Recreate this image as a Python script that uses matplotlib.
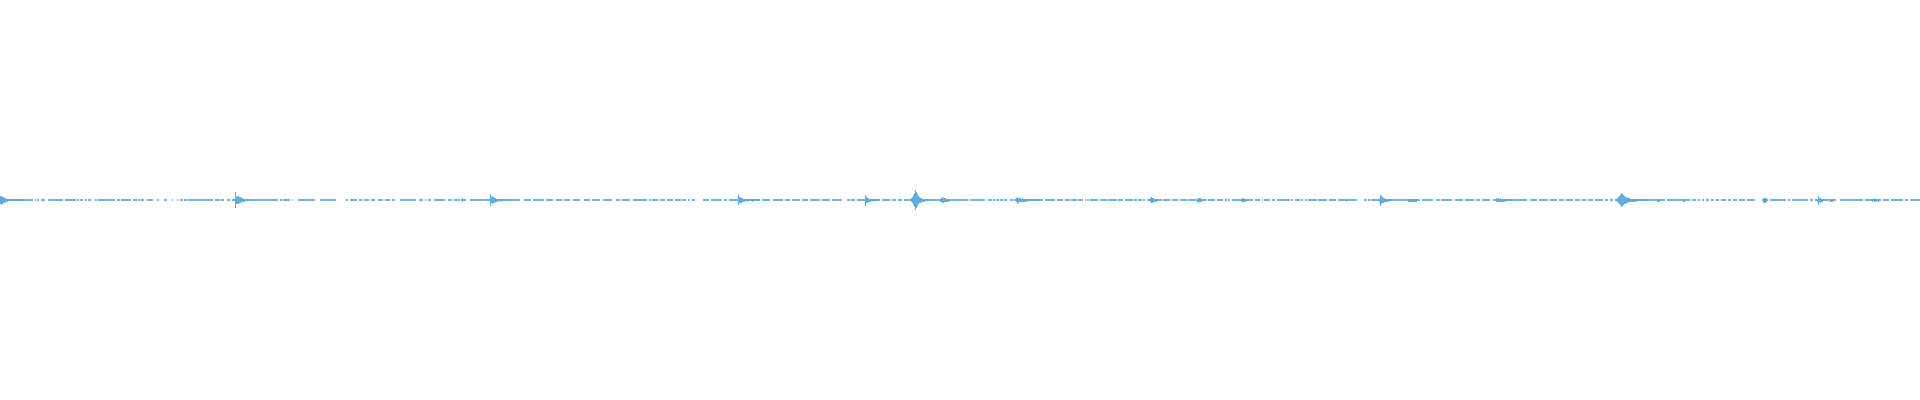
"""
Waveform strip: mostly silence with short bursts, drawn per pixel column
as a symmetric envelope around a thin centre line with dropouts.
"""
import numpy as np
import matplotlib
matplotlib.use("Agg")
import matplotlib.pyplot as plt

WAVE_COLOR = "#5DADE2"
N_COLS = 1920

# ── Data: bursts (first column, half-height of each column) ──────────────────
burst_starts = [0, 233, 462, 489, 738, 865, 911, 940, 1016, 1150,
                1197, 1241, 1346, 1379, 1408, 1496, 1617, 1657, 1683,
                1763, 1817, 1830, 1872]
burst_heights = [
    [4, 4.5, 3.5, 3, 2.5, 2, 1.5, 1.5, 1, 1, 1, 1, 1, 1, 1, 1, 1, 1, 1, 1, 1, 1, 1, 1],
    [1, 1, 8, 3.5, 4, 4, 3, 3, 2, 2, 1.5, 1.5, 1, 1, 1, 1, 1, 1],
    [2, 1, 1],
    [1, 6, 3, 4, 3, 2.5, 2, 1.5, 1.5, 1, 1, 1.5, 1, 1, 1, 1, 1, 1, 1],
    [5, 3, 3, 2.5, 2, 1.5, 1.5, 1, 1, 1.5, 1, 1, 1, 1, 1.5, 1, 1, 1, 1, 1],
    [5.5, 3, 2.5, 2, 1.5, 1.5, 1, 1, 1.5, 1, 1, 1, 1],
    [2, 3, 5, 7, 10, 8, 6, 4, 3, 2.5, 2, 1.5, 1.5, 1.5, 1, 1, 1, 1, 1, 1],
    [1.5, 2, 3, 2.5, 2, 2, 1.5, 1.5, 1.5, 1],
    [2, 3.5, 2.5, 2, 2, 1.5, 2, 1.5, 1.5, 1.5, 1, 1.5, 1, 1, 1, 1, 1, 1, 1, 1, 1],
    [2, 3, 2.5, 2, 1.5, 1.5, 1.5, 1, 1],
    [1.5, 2.5, 2, 2, 1.5, 1],
    [1.5, 2, 2, 1.5, 1.5, 1, 1, 1],
    [1.5],
    [1.5, 5.5, 4, 3, 2.5, 2, 1.5, 1.5, 1.5, 1.5, 1, 1, 1, 1],
    [1.5, 1.5, 1.5, 1.5, 1.5, 1.5, 1.5, 1.5, 1.5],
    [2, 1.5, 2, 1.5, 2, 1.5, 1.5, 1.5, 1.5, 1, 1.5, 1, 1, 1, 1, 1],
    [2, 3, 4, 5, 7, 6, 5, 4, 3.5, 3, 2.5, 2, 2, 1.5, 1.5, 1.5, 1.5, 1.5, 1.5,
     1, 1.5, 1, 1, 1, 1, 1, 1, 1],
    [1.5, 1.5, 1.5],
    [1.5, 1.5],
    [2.5, 2.5, 2.5, 2],
    [1.5, 4.5, 2, 2.5, 1.5, 1.5, 1],
    [1.5, 1.5, 1.5],
    [1.5, 1, 2, 1.5, 1.5, 1, 1.5, 1],
]

# ── Data: dropouts in the centre line (start, end columns) ───────────────────
gap_starts = [33, 36, 39, 45, 63, 76, 79, 83, 87, 91, 97, 115, 120, 131, 137,
              140, 144, 153, 159, 167, 173, 178, 183, 187, 213, 220, 224, 230,
              278, 282, 290, 293, 315,
              336, 348, 357, 362, 369, 375, 383, 390, 395, 416, 423, 426, 431,
              445, 452, 460, 466, 520, 531, 544, 553, 562, 570, 580, 590, 600,
              612, 620, 630,
              647, 651, 658, 665, 673, 681, 686, 690, 695, 709, 722, 727, 760,
              770, 783, 790, 800, 808, 820, 830, 842, 850, 855, 880, 890, 896,
              902,
              968, 970, 985, 992, 995, 999, 1003, 1007, 1013, 1043, 1055, 1063,
              1070, 1077, 1083, 1086, 1089, 1098, 1107, 1117, 1123, 1133, 1137,
              1142, 1145, 1162, 1170, 1178, 1187, 1207, 1215, 1223, 1227, 1230,
              1253, 1260, 1263, 1270, 1275,
              1290, 1293, 1300, 1303, 1307, 1317, 1327, 1336, 1357, 1367, 1370,
              1420, 1433, 1440, 1452, 1463, 1474, 1480, 1490, 1527, 1537, 1548,
              1557, 1564, 1573, 1580, 1586, 1593,
              1603, 1608, 1613, 1665, 1690, 1696, 1700, 1704, 1709, 1714, 1719,
              1726, 1731, 1737, 1745, 1755, 1768, 1786, 1790, 1808, 1813, 1836,
              1863, 1881, 1889, 1903, 1908]
gap_ends = [35, 37, 41, 48, 65, 77, 80, 85, 88, 95, 98, 117, 121, 133, 138,
            141, 147, 157, 164, 172, 177, 180, 184, 188, 215, 221, 227, 232,
            280, 283, 292, 298, 320,
            346, 350, 359, 364, 371, 378, 385, 392, 400, 419, 425, 428, 434,
            448, 454, 461, 470, 524, 533, 546, 556, 564, 573, 584, 592, 603,
            616, 622, 633,
            649, 652, 660, 667, 675, 682, 688, 692, 703, 711, 724, 729, 762,
            773, 785, 792, 802, 810, 822, 832, 847, 851, 857, 882, 892, 898,
            904,
            969, 971, 988, 993, 996, 1000, 1004, 1010, 1014, 1045, 1057, 1065,
            1071, 1078, 1085, 1087, 1090, 1100, 1108, 1118, 1125, 1134, 1138,
            1143, 1147, 1163, 1172, 1180, 1188, 1208, 1217, 1225, 1228, 1232,
            1255, 1262, 1264, 1272, 1277,
            1291, 1295, 1301, 1305, 1308, 1318, 1329, 1338, 1364, 1368, 1371,
            1422, 1436, 1441, 1455, 1465, 1476, 1482, 1493, 1530, 1539, 1550,
            1559, 1566, 1575, 1582, 1588, 1595,
            1605, 1610, 1615, 1667, 1692, 1698, 1702, 1706, 1711, 1716, 1721,
            1728, 1733, 1739, 1747, 1762, 1770, 1788, 1792, 1810, 1815, 1840,
            1865, 1883, 1891, 1905, 1910]

# ── Centre-line segments = complement of the gaps ────────────────────────────
seg_starts, seg_ends = [], []
pos = 0
for gs, ge in sorted(zip(gap_starts, gap_ends)):
    if gs > pos:
        seg_starts.append(pos)
        seg_ends.append(gs)
    pos = max(pos, ge)
if pos < N_COLS:
    seg_starts.append(pos)
    seg_ends.append(N_COLS)

# ── Plot ─────────────────────────────────────────────────────────────────────
fig = plt.figure(figsize=(19.2, 4.0), dpi=100)
ax = fig.add_axes([0, 0, 1, 1])

ax.hlines(np.zeros(len(seg_starts)), seg_starts, seg_ends,
          color=WAVE_COLOR, lw=1.3)

for start, heights in zip(burst_starts, burst_heights):
    h = np.asarray(heights, dtype=float)
    x = start + np.arange(len(h))
    ax.bar(x, 2 * h, bottom=-h, width=1.0, align="edge",
           color=WAVE_COLOR, linewidth=0, antialiased=False)

ax.set_xlim(0, N_COLS)
ax.set_ylim(-200, 200)
ax.axis("off")

fig.savefig("out.png", dpi=100, facecolor="white")
plt.close(fig)
